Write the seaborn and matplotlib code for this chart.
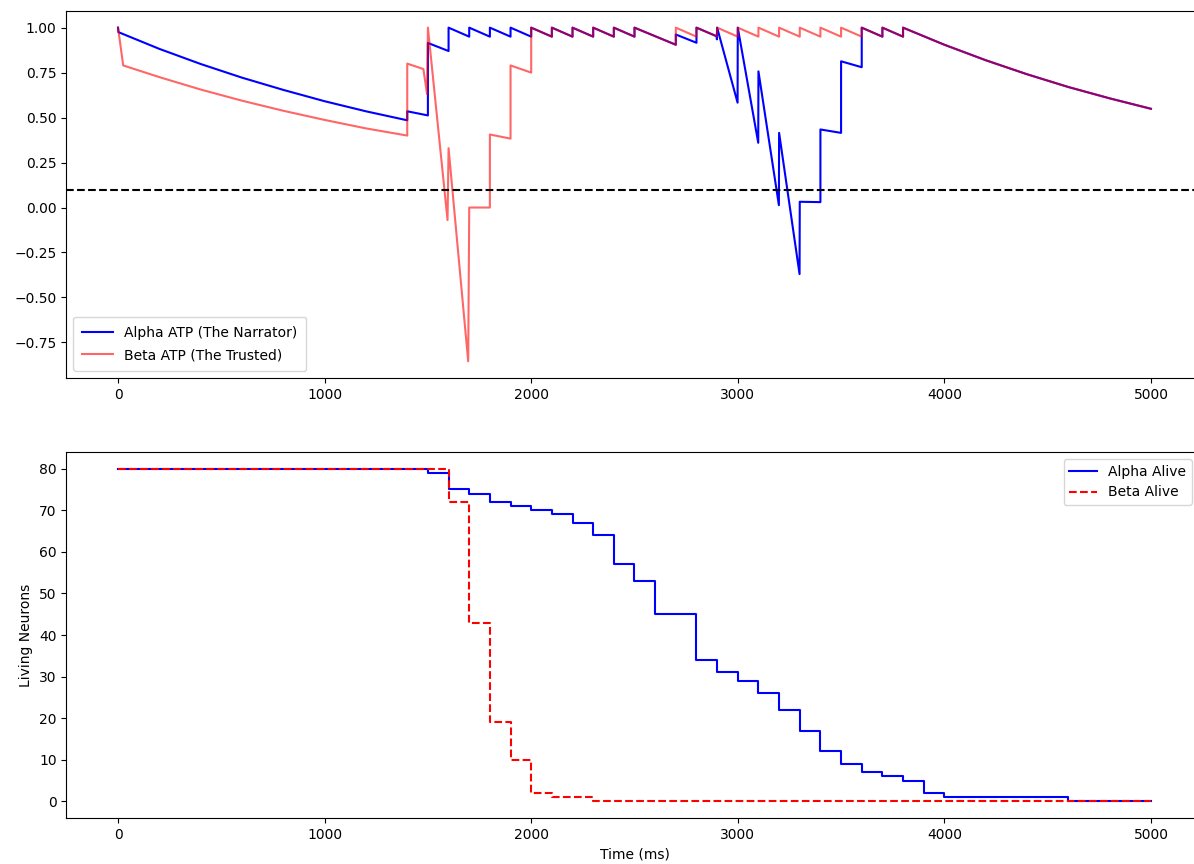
import matplotlib
matplotlib.use("Agg")
import matplotlib.pyplot as plt
import seaborn as sns

# ---- Top panel: ATP traces (breakpoints) ----
alpha_t = [0, 2, 200, 400, 600, 800, 1000, 1200, 1400, 1400, 1500, 1500, 1600, 1600,
           1700, 1700, 1800, 1800, 1900, 1900, 2000, 2000, 2100, 2100, 2200, 2200,
           2300, 2300, 2400, 2400, 2500, 2500, 2700, 2700, 2800, 2800, 2898, 2899, 2900,
           2999, 3000, 3099, 3100, 3199, 3200, 3299, 3300, 3400, 3400, 3500, 3500,
           3600, 3600, 3700, 3700, 3800, 3800, 4000, 4200, 4400, 4600, 4800, 5000]
alpha_atp = [1.0, 0.975, 0.882, 0.798, 0.722, 0.654, 0.591, 0.535, 0.485, 0.535, 0.512, 0.915, 0.87, 1.0,
             0.95, 1.0, 0.95, 1.0, 0.95, 1.0, 0.95, 1.0, 0.95, 1.0, 0.95, 1.0,
             0.95, 1.0, 0.95, 1.0, 0.95, 1.0, 0.905, 0.962, 0.916, 1.0, 0.952, 0.935, 1.0,
             0.583, 1.0, 0.36, 0.757, 0.013, 0.415, -0.37, 0.032, 0.03, 0.434, 0.415, 0.813,
             0.78, 1.0, 0.95, 1.0, 0.95, 1.0, 0.905, 0.819, 0.741, 0.670, 0.607, 0.549]

beta_t = [0, 25, 200, 400, 600, 800, 1000, 1200, 1400, 1400, 1478, 1496, 1500,
          1595, 1600, 1695, 1700, 1800, 1800, 1900, 1900, 2000, 2000,
          2100, 2100, 2200, 2200, 2300, 2300, 2400, 2400, 2500, 2500, 2700, 2700,
          2800, 2800, 2898, 2900, 3000, 3000, 3100, 3100, 3200, 3200, 3300, 3300,
          3400, 3400, 3500, 3500, 3600, 3600, 3700, 3700, 3800, 3800,
          4000, 4200, 4400, 4600, 4800, 5000]
beta_atp = [1.0, 0.79, 0.725, 0.656, 0.594, 0.538, 0.487, 0.44, 0.40, 0.80, 0.77, 0.63, 1.0,
            -0.07, 0.33, -0.855, 0.0, 0.0, 0.406, 0.383, 0.79, 0.75, 1.0,
            0.95, 1.0, 0.95, 1.0, 0.95, 1.0, 0.95, 1.0, 0.95, 1.0, 0.905, 1.0,
            0.95, 1.0, 0.952, 1.0, 0.95, 1.0, 0.95, 1.0, 0.95, 1.0, 0.95, 1.0,
            0.95, 1.0, 0.95, 1.0, 0.95, 1.0, 0.95, 1.0, 0.95, 1.0,
            0.905, 0.819, 0.741, 0.670, 0.607, 0.549]

atp_threshold = 0.1

# ---- Bottom panel: living neurons (step change points) ----
alpha_alive_t = [0, 1500, 1600, 1700, 1800, 1900, 2000, 2100, 2200, 2300, 2400, 2500, 2600,
                 2800, 2900, 3000, 3100, 3200, 3300, 3400, 3500, 3600, 3700, 3800, 3900,
                 4000, 4600, 5000]
alpha_alive = [80, 79, 75, 74, 72, 71, 70, 69, 67, 64, 57, 53, 45,
               34, 31, 29, 26, 22, 17, 12, 9, 7, 6, 5, 2,
               1, 0, 0]
beta_alive_t = [0, 1600, 1700, 1800, 1900, 2000, 2100, 2300, 5000]
beta_alive = [80, 72, 43, 19, 10, 2, 1, 0, 0]

fig = plt.figure(figsize=(11.94, 8.64), dpi=100)
ax1 = fig.add_axes([0.0556, 0.5625, 0.9516, 0.4248])
ax2 = fig.add_axes([0.0556, 0.0532, 0.9516, 0.4236])

sns.lineplot(x=alpha_t, y=alpha_atp, ax=ax1, color="blue", estimator=None, sort=False,
             label="Alpha ATP (The Narrator)")
sns.lineplot(x=beta_t, y=beta_atp, ax=ax1, color="red", alpha=0.6, estimator=None, sort=False,
             label="Beta ATP (The Trusted)")
ax1.axhline(atp_threshold, color="black", linestyle="--")
ax1.legend(loc="lower left", fontsize=10, borderpad=0.65, labelspacing=0.6, handlelength=2.2)
ax1.set_xlabel("")
ax1.set_ylabel("")

sns.lineplot(x=alpha_alive_t, y=alpha_alive, ax=ax2, color="blue", estimator=None, sort=False,
             drawstyle="steps-post", label="Alpha Alive")
sns.lineplot(x=beta_alive_t, y=beta_alive, ax=ax2, color="red", estimator=None, sort=False,
             drawstyle="steps-post", linestyle="--", label="Beta Alive")
ax2.legend(loc="upper right", bbox_to_anchor=(0.9965, 1.0))
ax2.set_xlabel("Time (ms)")
ax2.set_ylabel("Living Neurons")

fig.savefig("out.png", dpi=100)
